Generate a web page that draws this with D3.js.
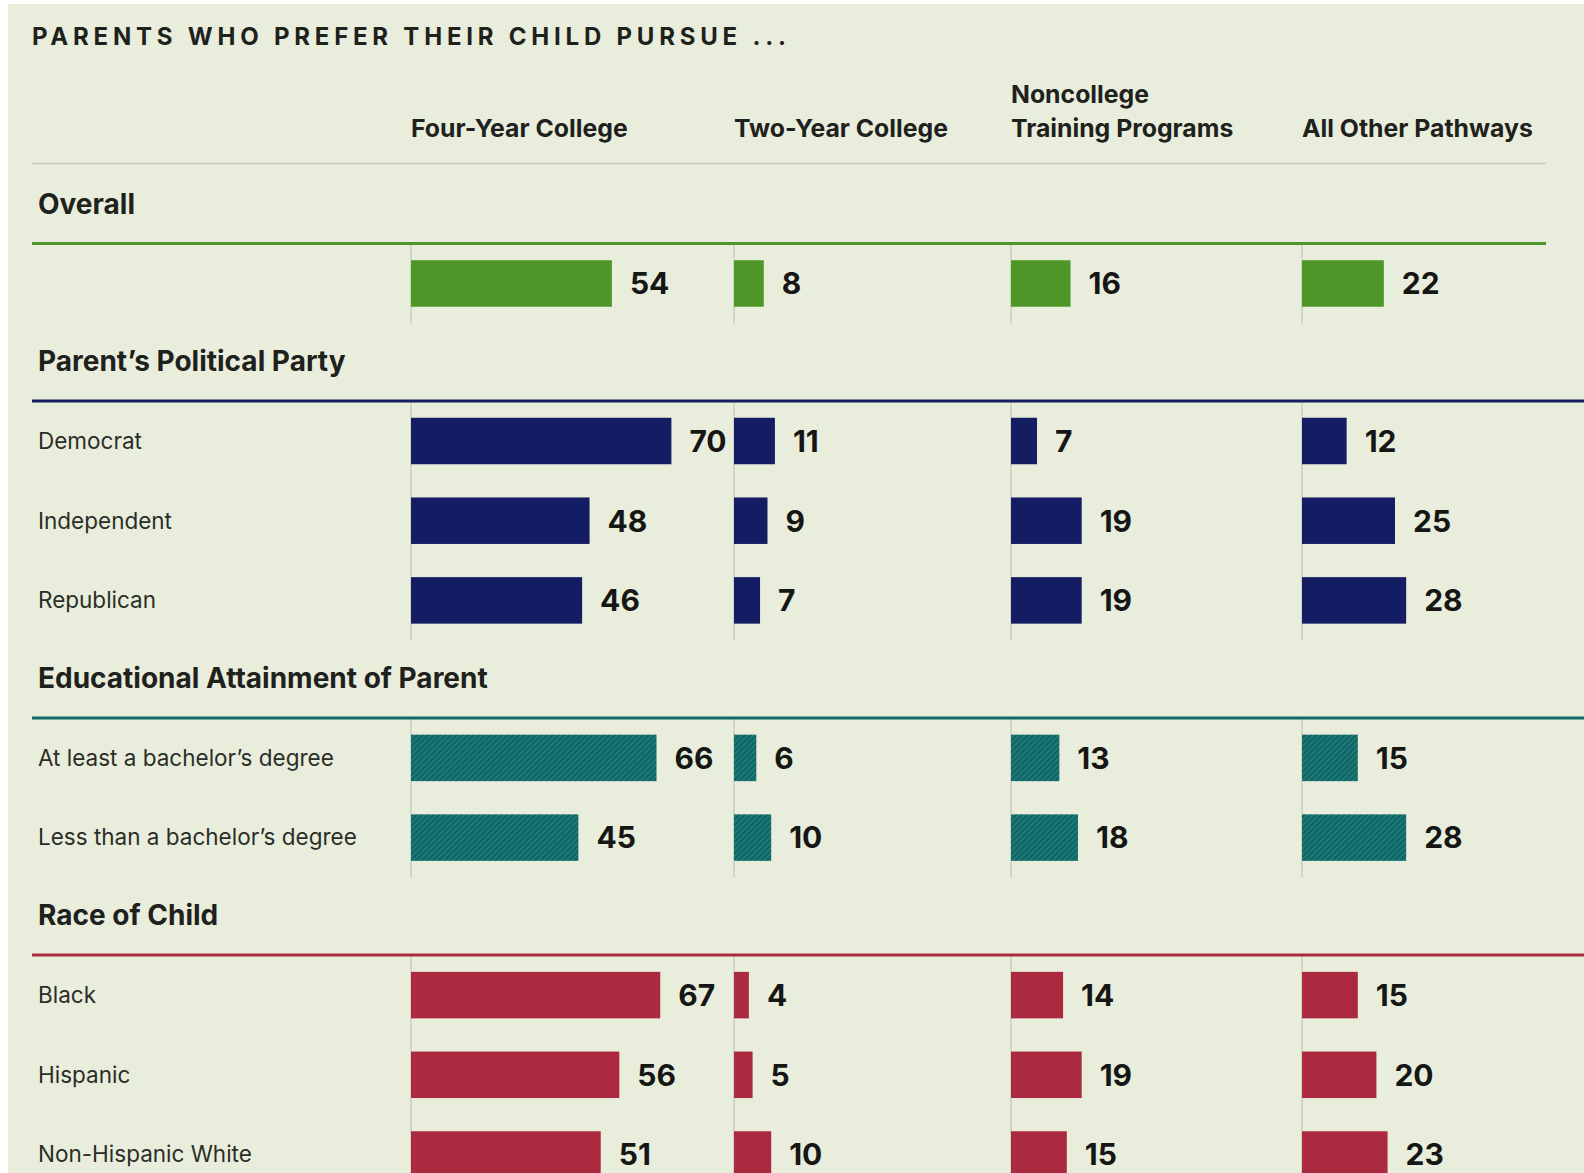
<!DOCTYPE html>
<html>
<head>
<meta charset="utf-8">
<script src="https://cdn.jsdelivr.net/npm/d3@7"></script>
<style>
  body { margin: 0; background: #ffffff; }
  svg { display: block; }
</style>
</head>
<body>
<div id="chart"></div>
<script>
// Chart data
const title = "PARENTS WHO PREFER THEIR CHILD PURSUE ...";
const columns = [["Four-Year College"], ["Two-Year College"], ["Noncollege", "Training Programs"], ["All Other Pathways"]];
const groups = ["Overall", "Parent\u2019s Political Party", "Educational Attainment of Parent", "Race of Child"];
const groupColors = ["#4e9627", "#141d63", "#0d6868", "#ab2a40"];

const overallRows = [""];
const overallValues = [[54, 8, 16, 22]];
const partyRows = ["Democrat", "Independent", "Republican"];
const partyValues = [[70, 11, 7, 12], [48, 9, 19, 25], [46, 7, 19, 28]];
const eduRows = ["At least a bachelor\u2019s degree", "Less than a bachelor\u2019s degree"];
const eduValues = [[66, 6, 13, 15], [45, 10, 18, 28]];
const raceRows = ["Black", "Hispanic", "Non-Hispanic White"];
const raceValues = [[67, 4, 14, 15], [56, 5, 19, 20], [51, 10, 15, 23]];

const groupRows = [overallRows, partyRows, eduRows, raceRows];
const groupValues = [overallValues, partyValues, eduValues, raceValues];

// Dimensions
const width = 1584, height = 1173;
const colX = [411, 734, 1011, 1302];
const rowStep = 79.7, barH = 46.5;
const font = "Inter, Roboto, sans-serif";

const svg = d3.select("#chart")
    .append("svg")
    .attr("width", width)
    .attr("height", height);

// teal hatch
const defs = svg.append("defs");
const pat = defs.append("pattern")
    .attr("id", "hatch")
    .attr("patternUnits", "userSpaceOnUse")
    .attr("width", 4).attr("height", 4)
    .attr("patternTransform", "rotate(45)");
pat.append("rect").attr("width", 4).attr("height", 4).attr("fill", "#0d6666");
pat.append("rect").attr("width", 1.3).attr("height", 4).attr("fill", "#2a7f7c");

svg.append("rect")
    .attr("x", 8).attr("y", 4)
    .attr("width", width - 8).attr("height", height - 4)
    .attr("fill", "#e9eedc");

// Scale for bar length
const x = d3.scaleLinear().domain([0, 100]).range([0, 372]);

// Title
svg.append("text")
    .attr("x", 32).attr("y", 44.5)
    .attr("font-family", font)
    .attr("font-weight", 700)
    .attr("font-size", 24)
    .attr("fill", "#1f211c")
    .attr("textLength", 754)
    .attr("lengthAdjust", "spacing")
    .text(title);

// Column headers
columns.forEach((lines, i) => {
    lines.forEach((line, j) => {
        svg.append("text")
            .attr("x", colX[i])
            .attr("y", 137 - (lines.length - 1 - j) * 34.5)
            .attr("font-family", font)
            .attr("font-weight", 700)
            .attr("font-size", 24.8)
            .attr("fill", "#1f211c")
            .text(line);
    });
});

// Header rule
svg.append("line")
    .attr("x1", 32).attr("x2", 1546)
    .attr("y1", 163.5).attr("y2", 163.5)
    .attr("stroke", "#c5c9bb")
    .attr("stroke-width", 1.5);

// Groups
let headY = 204;
groups.forEach((g, gi) => {
    const color = groupColors[gi];
    const fill = gi === 2 ? "url(#hatch)" : color;
    const ruleY = headY + 39.5;
    const firstY = ruleY + 40;
    const rows = groupRows[gi];
    const vals = groupValues[gi];
    const lastY = firstY + (rows.length - 1) * rowStep;

    svg.append("text")
        .attr("x", 38).attr("y", headY)
        .attr("dy", "0.35em")
        .attr("font-family", font)
        .attr("font-weight", 700)
        .attr("font-size", 28)
        .attr("fill", "#1f211c")
        .text(g);

    // column separators
    colX.forEach(cx => {
        svg.append("line")
            .attr("x1", cx).attr("x2", cx)
            .attr("y1", ruleY).attr("y2", lastY + 40)
            .attr("stroke", "#b9bdb0")
            .attr("stroke-width", 1);
    });

    svg.append("line")
        .attr("x1", 32).attr("x2", gi === 0 ? 1546 : width)
        .attr("y1", ruleY).attr("y2", ruleY)
        .attr("stroke", color)
        .attr("stroke-width", 3);

    rows.forEach((r, ri) => {
        const cy = firstY + ri * rowStep;
        svg.append("text")
            .attr("x", 38).attr("y", cy)
            .attr("dy", "0.35em")
            .attr("font-family", font)
            .attr("font-size", 22.5)
            .attr("fill", "#2b2d28")
            .text(r);

        vals[ri].forEach((v, ci) => {
            svg.append("rect")
                .attr("x", colX[ci])
                .attr("y", cy - barH / 2)
                .attr("width", x(v))
                .attr("height", barH)
                .attr("fill", fill);
            svg.append("text")
                .attr("x", colX[ci] + x(v) + 18)
                .attr("y", cy)
                .attr("dy", "0.36em")
                .attr("font-family", font)
                .attr("font-weight", 700)
                .attr("font-size", 30)
                .attr("fill", "#161714")
                .text(v);
        });
    });

    headY = lastY + 78;
});
</script>
</body>
</html>
